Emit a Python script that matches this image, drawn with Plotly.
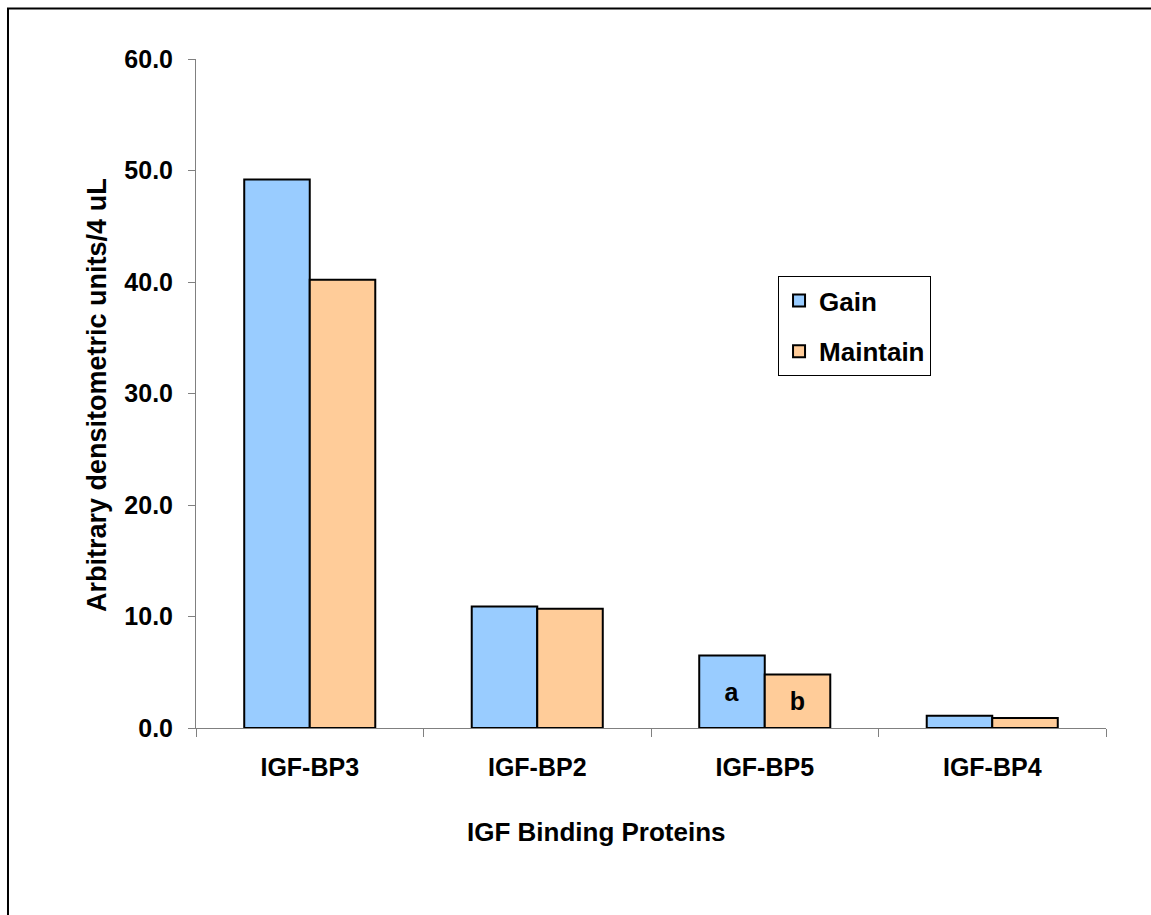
import plotly.graph_objects as go

categories = ["IGF-BP3", "IGF-BP2", "IGF-BP5", "IGF-BP4"]
gain = [49.2, 10.9, 6.5, 1.1]
maintain = [40.2, 10.7, 4.8, 0.9]
gain_marks = ["", "", "a", ""]
maintain_marks = ["", "", "b", ""]
y_ticks = [0, 10, 20, 30, 40, 50, 60]

FONT = "Arial, 'Liberation Sans', sans-serif"

fig = go.Figure()
fig.add_trace(go.Bar(
    name="Gain", x=categories, y=gain, text=gain_marks,
    textposition="inside", insidetextanchor="middle", textangle=0,
    constraintext="none",
    textfont=dict(family=FONT, size=25, color="black", weight="bold"),
    marker=dict(color="#99CCFF", line=dict(color="black", width=2)),
    legendgroup="g1",
))
fig.add_trace(go.Bar(
    name="Maintain", x=categories, y=maintain, text=maintain_marks,
    textposition="inside", insidetextanchor="middle", textangle=0,
    constraintext="none",
    textfont=dict(family=FONT, size=25, color="black", weight="bold"),
    marker=dict(color="#FFCC99", line=dict(color="black", width=2)),
    legendgroup="g2",
))

fig.update_layout(
    width=1151, height=915,
    margin=dict(l=196, r=45, t=59, b=187),
    paper_bgcolor="white", plot_bgcolor="white",
    barmode="group", bargap=0.424, bargroupgap=0,
    font=dict(family=FONT, size=25, color="black"),
    showlegend=True,
    legend=dict(
        x=0.6396, y=0.6756, xanchor="left", yanchor="top",
        bordercolor="black", borderwidth=1, bgcolor="white",
        font=dict(family=FONT, size=26, color="black", weight="bold"),
        traceorder="grouped", tracegroupgap=14,
    ),
    xaxis=dict(
        showline=True, linecolor="#808080", linewidth=1,
        ticks="outside", tickson="boundaries", ticklen=8, tickcolor="#808080",
        tickfont=dict(family=FONT, size=25, color="black", weight="bold"),
        ticklabelstandoff=17, showgrid=False, zeroline=False,
    ),
    yaxis=dict(
        range=[0, 60], tickvals=y_ticks, tickformat=".1f",
        showline=True, linecolor="#808080", linewidth=1,
        ticks="outside", ticklen=7, tickcolor="#808080",
        tickfont=dict(family=FONT, size=25, color="black", weight="bold"),
        ticklabelstandoff=10, showgrid=False, zeroline=False,
    ),
    annotations=[
        dict(text="<b>IGF Binding Proteins</b>", xref="paper", yref="paper",
             x=0.4396, y=-0.1555, xanchor="center", yanchor="middle", showarrow=False,
             font=dict(family=FONT, size=26, color="black")),
        dict(text="<b>Arbitrary densitometric units/4 uL</b>", xref="paper", yref="paper",
             x=-0.1088, y=0.4978, xanchor="center", yanchor="middle",
             showarrow=False, textangle=-90,
             font=dict(family=FONT, size=27, color="black")),
    ],
    shapes=[
        dict(type="rect", xref="paper", yref="paper",
             x0=-0.2066, x1=1.06, y0=-0.30, y1=1.0755,
             line=dict(color="black", width=2), layer="below"),
    ],
)

fig.write_html("out.html")
